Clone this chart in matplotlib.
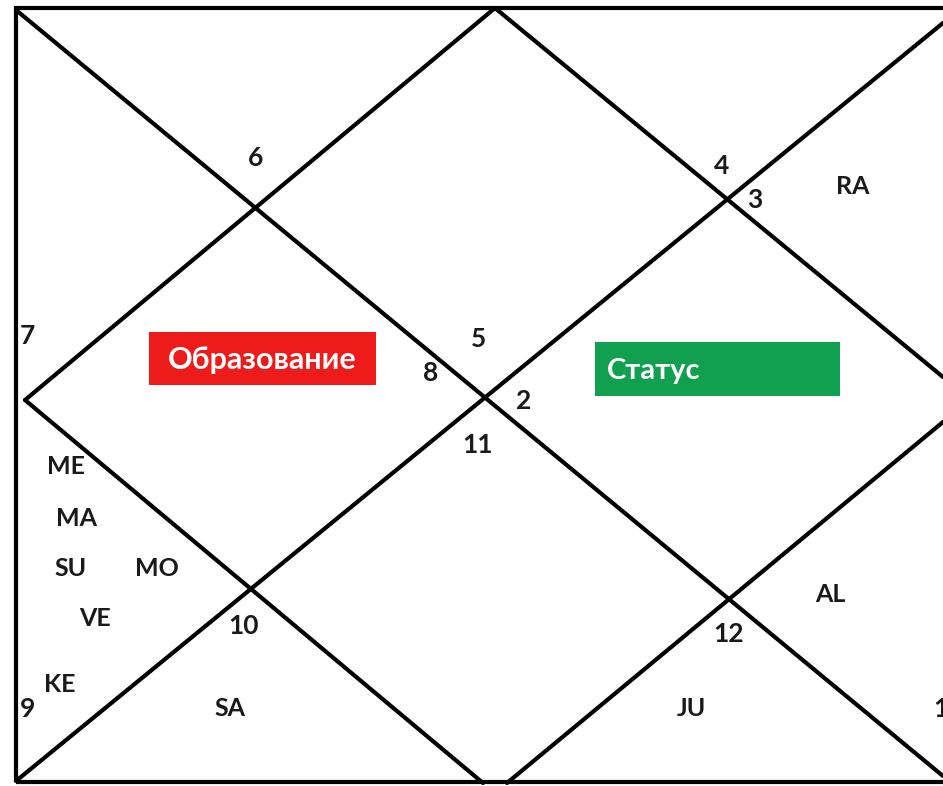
import matplotlib
matplotlib.use("Agg")
import matplotlib.pyplot as plt
from matplotlib.patches import Rectangle

W, H = 943, 786

# chart geometry (image pixel coordinates)
frame_left, frame_top, frame_bottom = 16, 8, 782
lines = [
    ((16, 10), (943, 776)),
    ((495, 8), (25, 400)),
    ((25, 400), (483, 783)),
    ((943, 23), (16, 781)),
    ((495, 8), (943, 377)),
    ((507, 783), (943, 422)),
]

house_numbers = ["6", "4", "3", "7", "5", "8", "2", "11", "9", "10", "12", "1"]
house_xy = [(256, 158), (722, 166), (755, 200), (27, 336), (479, 339), (431, 373),
            (524, 401), (477, 445), (28, 709), (244, 626), (729, 634), (941, 709)]

planets = ["RA", "ME", "MA", "SU", "MO", "VE", "KE", "SA", "AL", "JU"]
planet_xy = [(853, 186), (66, 467), (77, 518), (71, 569), (157, 569), (95, 619),
             (60, 685), (230, 709), (830, 594), (691, 709)]

boxes = ["Образование", "Статус"]
box_rects = [(149, 332, 227, 53, "#ee1b1b"), (595, 342, 245, 54, "#10a04f")]

fig = plt.figure(figsize=(W / 100, H / 100), dpi=100)
ax = fig.add_axes([0, 0, 1, 1])
ax.set_xlim(0, W)
ax.set_ylim(H, 0)
ax.axis("off")

lw = 3.0
ax.plot([frame_left, W + 5], [frame_top, frame_top], color="black", lw=lw, solid_capstyle="butt")
ax.plot([frame_left, frame_left], [frame_top - 2, frame_bottom], color="black", lw=lw, solid_capstyle="butt")
ax.plot([frame_left, W + 5], [frame_bottom, frame_bottom], color="black", lw=lw, solid_capstyle="butt")
for (x0, y0), (x1, y1) in lines:
    ax.plot([x0, x1], [y0, y1], color="black", lw=lw, solid_capstyle="round")

font = dict(family=["Lato", "DejaVu Sans"], fontweight="bold", color="#1a1a1a")
for t, (x, y) in zip(house_numbers, house_xy):
    ax.text(x, y, t, ha="center", va="center", fontsize=19, **font)
for t, (x, y) in zip(planets, planet_xy):
    ax.text(x, y, t, ha="center", va="center", fontsize=18, **font)

for t, (x, y, w, h, c) in zip(boxes, box_rects):
    ax.add_patch(Rectangle((x, y), w, h, facecolor=c, edgecolor="none"))
ax.text(262, 360, boxes[0], ha="center", va="center", fontsize=22,
        family=["Lato", "DejaVu Sans"], fontweight="bold", color="white")
ax.text(607, 371, boxes[1], ha="left", va="center", fontsize=21,
        family=["Lato", "DejaVu Sans"], fontweight="bold", color="white")

fig.savefig("out.png", dpi=100)
